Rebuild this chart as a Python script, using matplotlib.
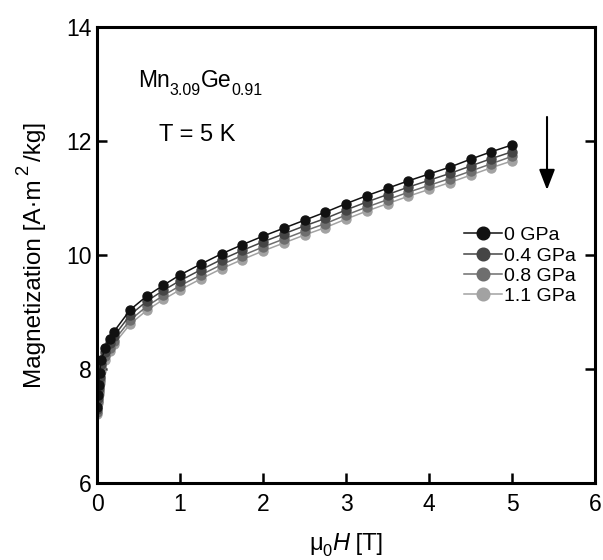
import numpy as np
import matplotlib
matplotlib.use("Agg")
import matplotlib.pyplot as plt
from matplotlib.transforms import offset_copy

plt.rcParams['font.family'] = ['Liberation Sans', 'DejaVu Sans']

# field values (T)
field = [0, 0.01, 0.02, 0.03, 0.05, 0.1, 0.15, 0.2, 0.4, 0.6, 0.8, 1.0, 1.25, 1.5,
         1.75, 2.0, 2.25, 2.5, 2.75, 3.0, 3.25, 3.5, 3.75, 4.0, 4.25, 4.5, 4.75, 5.0]

# magnetization at each pressure
m_0gpa = [7.33, 7.54, 7.72, 7.93, 8.16, 8.37, 8.53, 8.65, 9.04, 9.28, 9.47, 9.65, 9.84, 10.02,
          10.18, 10.33, 10.47, 10.61, 10.75, 10.90, 11.04, 11.17, 11.30, 11.42, 11.54, 11.68, 11.81, 11.93]
m_04gpa = [7.29, 7.49, 7.66, 7.86, 8.09, 8.29, 8.45, 8.57, 8.95, 9.19, 9.38, 9.55, 9.74, 9.92,
           10.08, 10.23, 10.37, 10.51, 10.64, 10.79, 10.93, 11.06, 11.19, 11.31, 11.43, 11.56, 11.69, 11.81]
m_08gpa = [7.25, 7.44, 7.61, 7.80, 8.03, 8.22, 8.37, 8.49, 8.86, 9.10, 9.29, 9.46, 9.65, 9.83,
           9.99, 10.14, 10.28, 10.42, 10.55, 10.70, 10.84, 10.97, 11.10, 11.22, 11.34, 11.47, 11.60, 11.73]
m_11gpa = [7.21, 7.40, 7.56, 7.75, 7.97, 8.16, 8.31, 8.43, 8.79, 9.03, 9.22, 9.39, 9.58, 9.76,
           9.92, 10.07, 10.21, 10.35, 10.48, 10.63, 10.77, 10.90, 11.03, 11.15, 11.27, 11.40, 11.53, 11.65]

labels = ['0 GPa', '0.4 GPa', '0.8 GPa', '1.1 GPa']
colors = ['#111111', '#454545', '#6e6e6e', '#a2a2a2']
series = [m_0gpa, m_04gpa, m_08gpa, m_11gpa]

fig = plt.figure(figsize=(6.03, 5.6), dpi=100)
ax = fig.add_axes([0.161, 0.1375, 0.826, 0.8145])


def rich_text(x, y, pieces, size, transform, rot=0, center=False):
    # pieces: (text, size factor, shift in em, style, gap before in em)
    r = fig.canvas.get_renderer()
    items = []
    total = 0.0
    for txt, fac, shift, style, gap in pieces:
        t = fig.text(0, 0, txt, fontsize=size * fac, style=style, rotation=rot,
                     rotation_mode='anchor', ha='left', va='baseline')
        ext = t.get_window_extent(r)
        adv = (ext.height if rot else ext.width) * 72.0 / fig.dpi
        total += gap * size
        items.append((t, total, shift * size))
        total += adv
    start = -total / 2 if center else 0.0
    for t, pos, sh in items:
        p = start + pos
        dx, dy = (-sh, p) if rot else (p, sh)
        t.set_transform(offset_copy(transform, fig=fig, x=dx, y=dy, units='points'))
        t.set_position((x, y))


# black drawn last so it sits on top
for m, c, lab in reversed(list(zip(series, colors, labels))):
    ax.plot(field, m, '-o', color=c, markersize=6.5, linewidth=1.1, label=lab)

ax.set_xlim(0, 6)
ax.set_ylim(6, 14)
ax.set_xticks(range(0, 7))
ax.set_yticks([6, 8, 10, 12, 14])

for s in ax.spines.values():
    s.set_linewidth(2.2)
ax.tick_params(direction='in', length=7, width=1.8, labelsize=16.5, right=True, top=False)
ax.tick_params(axis='x', pad=7)
ax.tick_params(axis='y', pad=4)

# axis labels with sub/superscripts
rich_text(346 / 603, 1 - 550 / 560,
          [('\u03bc', 1, 0, 'normal', 0), ('0', 0.7, -0.25, 'normal', 0),
           ('H', 1, 0, 'italic', 0), (' [T]', 1, 0, 'normal', 0)],
          17, fig.transFigure, center=True)
rich_text(41 / 603, 1 - 255 / 560,
          [('Magnetization [A\u00b7m', 1, 0, 'normal', 0), ('2', 0.75, 0.55, 'normal', 0.2),
           ('/kg]', 1, 0, 'normal', 0.15)],
          17.5, fig.transFigure, rot=90, center=True)

rich_text(0.494, 12.95,
          [('Mn', 1, 0, 'normal', 0), ('3.09', 0.7, -0.38, 'normal', 0),
           ('Ge', 1, 0, 'normal', 0), ('0.91', 0.7, -0.38, 'normal', 0)],
          16.5, ax.transData)
ax.text(0.747, 12.0, 'T = 5 K', fontsize=17, va='baseline')

ax.annotate('', xy=(5.42, 11.14), xytext=(5.42, 12.42),
            arrowprops=dict(arrowstyle='-|>,head_length=0.62,head_width=0.24',
                            color='black', lw=1.5, mutation_scale=20,
                            shrinkA=0, shrinkB=0))

handles, labs = ax.get_legend_handles_labels()
ax.legend(handles[::-1], labs[::-1], loc='center left', bbox_to_anchor=(0.721, 0.476),
          frameon=False, fontsize=14, handlelength=1.95, handletextpad=0.1,
          labelspacing=0.14, borderaxespad=0, markerscale=1.4)

fig.savefig('out.png', dpi=100)
